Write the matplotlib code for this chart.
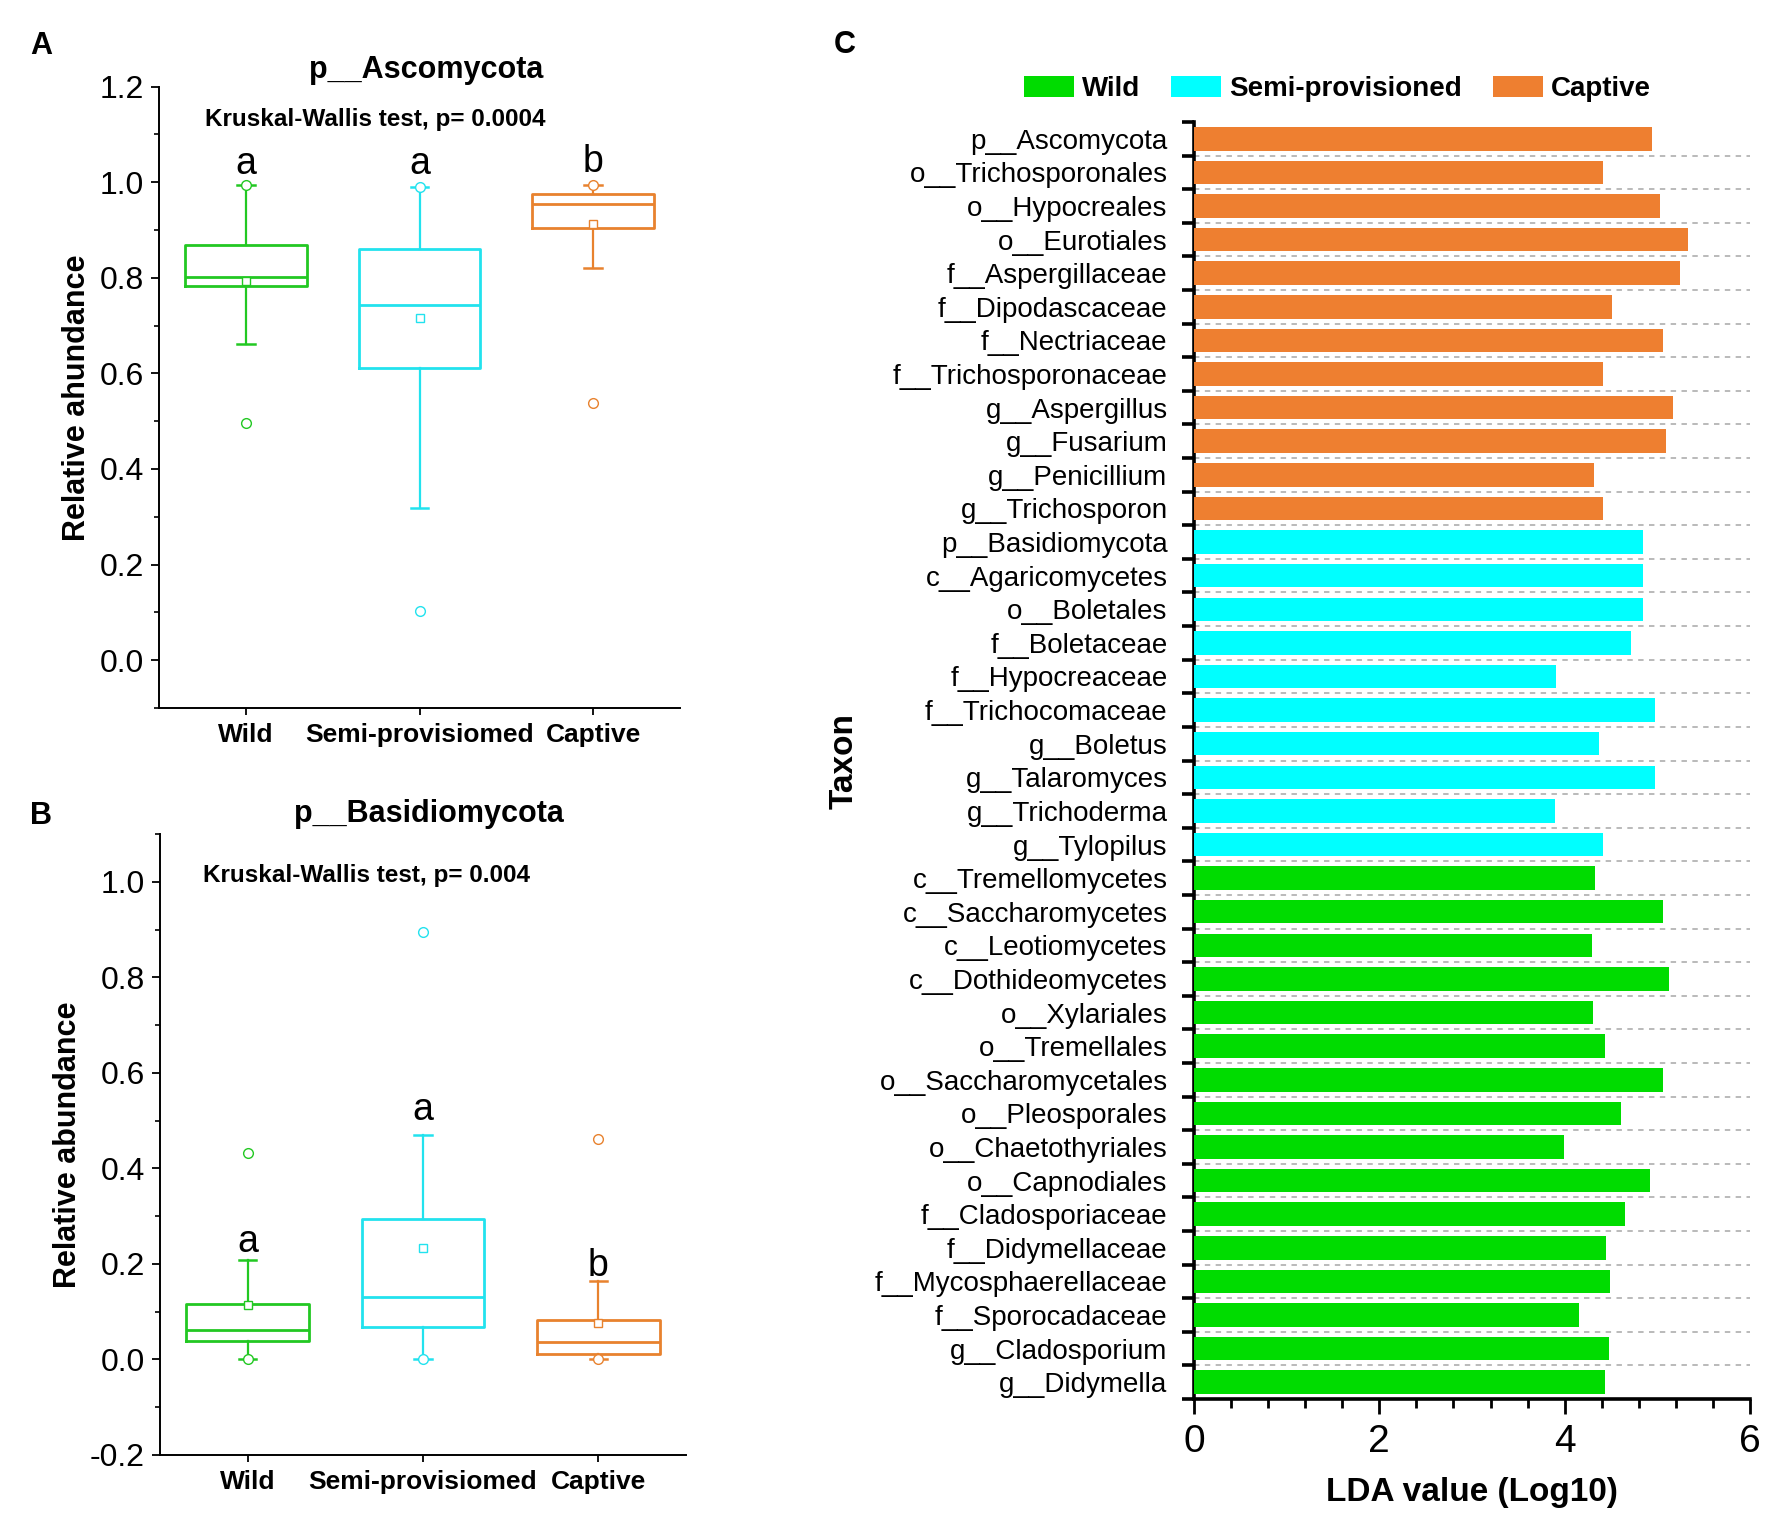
import matplotlib

matplotlib.use("Agg")
import matplotlib.pyplot as plt
from matplotlib.patches import Patch
from matplotlib.ticker import MultipleLocator

plt.rcParams["font.family"] = ["Liberation Sans", "DejaVu Sans"]

# ---- panel A / B data ----
groups = ["Wild", "Semi-provisiomed", "Captive"]
box_colors = ["#22c822", "#22e2ee", "#e8822e"]

asco_q1 = [0.783, 0.612, 0.904]
asco_med = [0.802, 0.743, 0.955]
asco_q3 = [0.868, 0.860, 0.976]
asco_mean = [0.794, 0.715, 0.912]
asco_lo = [0.662, 0.318, 0.820]
asco_hi = [0.995, 0.990, 0.994]
asco_out = [0.497, 0.102, 0.537]
asco_ext = [0.995, 0.990, 0.994]
asco_letters = ["a", "a", "b"]
asco_letter_y = [1.017, 1.017, 1.022]

basi_q1 = [0.038, 0.067, 0.012]
basi_med = [0.062, 0.131, 0.036]
basi_q3 = [0.117, 0.293, 0.083]
basi_mean = [0.114, 0.233, 0.076]
basi_lo = [0.001, 0.002, 0.002]
basi_hi = [0.208, 0.469, 0.165]
basi_out = [0.432, 0.894, 0.461]
basi_ext = [0.001, 0.002, 0.002]
basi_letters = ["a", "a", "b"]
basi_letter_y = [0.226, 0.501, 0.175]

# ---- panel C data ----
taxa = [
    "p__Ascomycota", "o__Trichosporonales", "o__Hypocreales", "o__Eurotiales",
    "f__Aspergillaceae", "f__Dipodascaceae", "f__Nectriaceae",
    "f__Trichosporonaceae", "g__Aspergillus", "g__Fusarium", "g__Penicillium",
    "g__Trichosporon",
    "p__Basidiomycota", "c__Agaricomycetes", "o__Boletales", "f__Boletaceae",
    "f__Hypocreaceae", "f__Trichocomaceae", "g__Boletus", "g__Talaromyces",
    "g__Trichoderma", "g__Tylopilus",
    "c__Tremellomycetes", "c__Saccharomycetes", "c__Leotiomycetes",
    "c__Dothideomycetes", "o__Xylariales", "o__Tremellales",
    "o__Saccharomycetales", "o__Pleosporales", "o__Chaetothyriales",
    "o__Capnodiales", "f__Cladosporiaceae", "f__Didymellaceae",
    "f__Mycosphaerellaceae", "f__Sporocadaceae", "g__Cladosporium",
    "g__Didymella",
]
lda = [
    4.94, 4.41, 5.03, 5.33, 5.24, 4.51, 5.06, 4.41, 5.17, 5.09, 4.32, 4.41,
    4.84, 4.85, 4.85, 4.72, 3.91, 4.97, 4.37, 4.97, 3.90, 4.41,
    4.33, 5.06, 4.29, 5.13, 4.31, 4.43, 5.06, 4.61, 3.99, 4.92, 4.65, 4.45,
    4.49, 4.16, 4.48, 4.43,
]
taxon_group = ["Captive"] * 12 + ["Semi-provisioned"] * 10 + ["Wild"] * 16
legend_groups = ["Wild", "Semi-provisioned", "Captive"]
bar_colors = {"Wild": "#00dc00", "Semi-provisioned": "#00ffff", "Captive": "#ee7f30"}

W, H = 1775, 1525


def px_axes(left, top, right, bottom):
    # pixel box of the reference -> figure fraction
    return [left / W, 1 - bottom / H, (right - left) / W, (bottom - top) / H]


def draw_box_panel(ax, q1, med, q3, mean, lo, hi, out, ext, letters, letter_y):
    positions = [1, 2, 3]
    for i in range(len(groups)):
        st = {
            "q1": q1[i], "med": med[i], "q3": q3[i], "mean": mean[i],
            "whislo": lo[i], "whishi": hi[i], "fliers": [out[i]],
        }
        c = box_colors[i]
        ax.bxp(
            [st],
            positions=[positions[i]],
            widths=0.7,
            capwidths=0.1,
            showmeans=True,
            boxprops={"color": c, "linewidth": 2.0},
            whiskerprops={"color": c, "linewidth": 1.6},
            capprops={"color": c, "linewidth": 1.8},
            medianprops={"color": c, "linewidth": 2.0},
            meanprops={"marker": "s", "markerfacecolor": "white",
                       "markeredgecolor": c, "markersize": 6,
                       "markeredgewidth": 1.0},
            flierprops={"marker": "o", "markerfacecolor": "none",
                        "markeredgecolor": c, "markersize": 7,
                        "markeredgewidth": 1.0},
        )
        ax.plot(positions[i], ext[i], marker="o", mfc="white", mec=c,
                ms=7, mew=1.0, zorder=4)
        ax.text(positions[i], letter_y[i], letters[i], ha="center",
                va="baseline", fontsize=27)

    ax.set_xlim(0.5, 3.5)
    ax.set_xticks(positions)
    ax.set_xticklabels(groups, fontweight="bold", fontsize=19)
    ax.spines["top"].set_visible(False)
    ax.spines["right"].set_visible(False)
    ax.spines["left"].set_linewidth(1.4)
    ax.spines["bottom"].set_linewidth(1.4)
    ax.yaxis.set_major_locator(MultipleLocator(0.2))
    ax.yaxis.set_minor_locator(MultipleLocator(0.1))
    ax.tick_params(axis="y", which="major", labelsize=23, length=6, width=1.3, pad=5)
    ax.tick_params(axis="y", which="minor", length=3.5, width=1.2)
    ax.tick_params(axis="x", which="major", length=5, width=1.3, pad=6)
    ax.yaxis.set_major_formatter(plt.FuncFormatter(lambda v, p: f"{v:.1f}"))


fig = plt.figure(figsize=(17.75, 15.25), dpi=100)

# ---- panel A ----
ax_a = fig.add_axes(px_axes(159, 86.5, 680, 708))
draw_box_panel(ax_a, asco_q1, asco_med, asco_q3, asco_mean, asco_lo, asco_hi,
               asco_out, asco_ext, asco_letters, asco_letter_y)
ax_a.set_ylim(-0.1, 1.2)
ax_a.set_ylabel("Relative ahundance", fontsize=22, fontweight="bold")
ax_a.yaxis.set_label_coords(-0.128, 0.5)
ax_a.text(0.512, 1.027, "p__Ascomycota", transform=ax_a.transAxes,
          ha="center", va="center", fontsize=22, fontweight="bold")
ax_a.text(1.745, 1.13, "Kruskal-Wallis test, p= 0.0004", ha="center",
          va="center", fontsize=17.5, fontweight="bold")

# ---- panel B ----
ax_b = fig.add_axes(px_axes(160, 834, 686, 1455))
draw_box_panel(ax_b, basi_q1, basi_med, basi_q3, basi_mean, basi_lo, basi_hi,
               basi_out, basi_ext, basi_letters, basi_letter_y)
ax_b.set_ylim(-0.2, 1.1)
ax_b.set_ylabel("Relative abundance", fontsize=22, fontweight="bold")
ax_b.yaxis.set_label_coords(-0.147, 0.5)
ax_b.text(0.511, 1.033, "p__Basidiomycota", transform=ax_b.transAxes,
          ha="center", va="center", fontsize=22, fontweight="bold")
ax_b.text(1.675, 1.014, "Kruskal-Wallis test, p= 0.004", ha="center",
          va="center", fontsize=17.5, fontweight="bold")

# ---- panel C ----
ax_c = fig.add_axes(px_axes(1194, 122, 1750, 1399))
rows = list(range(len(taxa)))
ax_c.barh(rows, lda, height=0.7,
          color=[bar_colors[g] for g in taxon_group], zorder=3)
boundaries = [r + 0.5 for r in rows[:-1]]
ax_c.hlines(boundaries, 0, 6, colors="#b4b4b4", linestyles=(0, (3, 3)),
            linewidth=1.3, zorder=1)
ax_c.set_ylim(len(taxa) - 0.5, -0.5)
ax_c.set_xlim(0, 6)
ax_c.set_yticks(rows)
ax_c.set_yticklabels(taxa, fontsize=20)
ax_c.set_yticks([r - 0.5 for r in rows] + [len(taxa) - 0.5], minor=True)
ax_c.tick_params(axis="y", which="major", length=0, pad=19)
ax_c.tick_params(axis="y", which="minor", length=9, width=2.6)
ax_c.xaxis.set_major_locator(MultipleLocator(2))
ax_c.xaxis.set_minor_locator(MultipleLocator(0.4))
ax_c.tick_params(axis="x", which="major", length=11, width=2.0, labelsize=28, pad=7)
ax_c.tick_params(axis="x", which="minor", length=6.5, width=2.0)
ax_c.spines["top"].set_visible(False)
ax_c.spines["right"].set_visible(False)
ax_c.spines["left"].set_linewidth(2.6)
ax_c.spines["bottom"].set_linewidth(2.6)
ax_c.set_xlabel("LDA value (Log10)", fontsize=24, fontweight="bold", labelpad=12)
ax_c.set_ylabel("Taxon", fontsize=24, fontweight="bold")
ax_c.yaxis.set_label_coords(-0.601, 0.5)

handles = [Patch(facecolor=bar_colors[g], edgecolor="none", label=g)
           for g in legend_groups]
fig.legend(handles=handles, loc="center", bbox_to_anchor=(0.7535, 0.9416),
           ncol=3, frameon=False, handlelength=1.8, handleheight=0.8,
           handletextpad=0.3, columnspacing=1.1,
           prop={"size": 20, "weight": "bold"})

# panel letters
fig.text(41 / W, 1 - 46 / H, "A", fontsize=22, fontweight="bold",
         ha="center", va="center")
fig.text(41 / W, 1 - 816 / H, "B", fontsize=22, fontweight="bold",
         ha="center", va="center")
fig.text(845 / W, 1 - 45 / H, "C", fontsize=22, fontweight="bold",
         ha="center", va="center")

fig.savefig("out.png", dpi=100)
